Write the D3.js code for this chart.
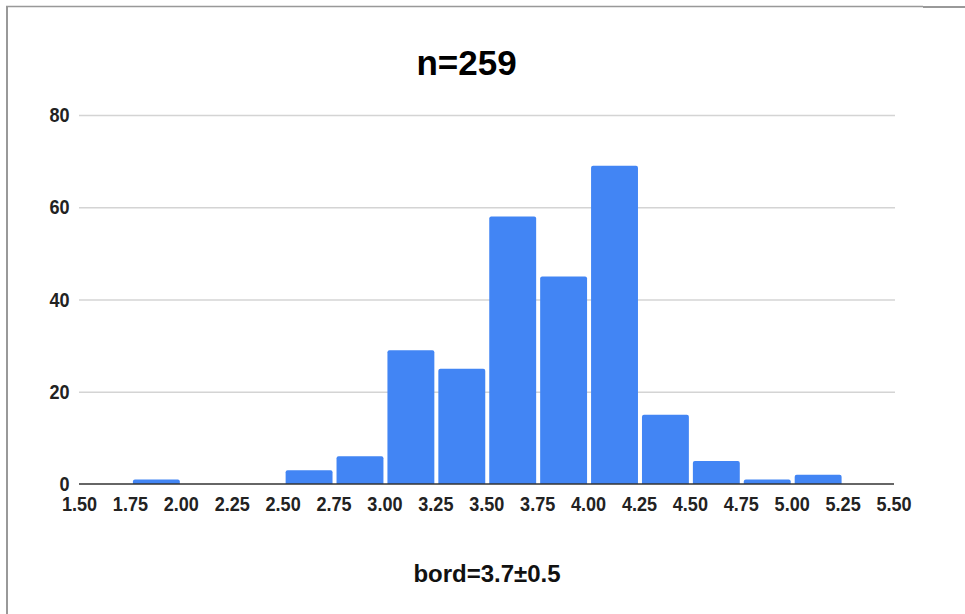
<!DOCTYPE html>
<html>
<head>
<meta charset="utf-8">
<script src="https://cdn.jsdelivr.net/npm/d3@7"></script>
<style>
  html, body { margin: 0; padding: 0; background: #fff; }
  svg { display: block; }
</style>
</head>
<body>
<svg id="chart" width="965" height="614"></svg>
<script>
// Data
const binStarts = [1.50, 1.75, 2.00, 2.25, 2.50, 2.75, 3.00, 3.25, 3.50, 3.75, 4.00, 4.25, 4.50, 4.75, 5.00, 5.25];
const counts    = [0,    1,    0,    0,    3,    6,    29,   25,   58,   45,   69,   15,   5,    1,    2,    0];
const binWidth = 0.25;
const xTicks = [1.50, 1.75, 2.00, 2.25, 2.50, 2.75, 3.00, 3.25, 3.50, 3.75, 4.00, 4.25, 4.50, 4.75, 5.00, 5.25, 5.50];
const yTicks = [0, 20, 40, 60, 80];
const title = "n=259";
const xTitle = "bord=3.7±0.5";

const svg = d3.select("#chart");
const W = 965, H = 614;

// Frame lines (screenshot border)
svg.append("line").attr("x1", 7).attr("x2", 7).attr("y1", 6).attr("y2", H)
  .attr("stroke", "#999").attr("stroke-width", 2);
svg.append("line").attr("x1", 6).attr("x2", 923).attr("y1", 6.5).attr("y2", 6.5)
  .attr("stroke", "#999").attr("stroke-width", 1.5);
svg.append("line").attr("x1", 923).attr("x2", W).attr("y1", 7).attr("y2", 7)
  .attr("stroke", "#999").attr("stroke-width", 2);

const x = d3.scaleLinear().domain([1.5, 5.5]).range([79, 893.5]);
const y = d3.scaleLinear().domain([0, 80]).range([484, 115]);

const font = "'Liberation Sans', Arial, sans-serif";
const sx = 0.86;

// Gridlines + y labels
const yAxis = d3.axisLeft(y).tickValues(yTicks).tickSize(-(895 - 79)).tickFormat(d3.format("d")).tickPadding(9);
const gy = svg.append("g").attr("transform", "translate(79,0)").call(yAxis);
gy.select(".domain").remove();
gy.selectAll(".tick line").attr("stroke", "#d4d4d4").attr("stroke-width", 1.5);
gy.selectAll(".tick text")
  .attr("x", -9.5 / sx)
  .attr("transform", `scale(${sx},1)`)
  .attr("font-family", font).attr("font-weight", "bold")
  .attr("font-size", 21).attr("fill", "#222");
gy.selectAll(".tick").filter(d => d === 0).select("line").remove();

// Bars
const data = binStarts.map((s, i) => ({ x0: s, x1: s + binWidth, v: counts[i] })).filter(d => d.v > 0);
const r = 2;
svg.append("g").selectAll("path").data(data).join("path")
  .attr("fill", "#4285f4")
  .attr("d", d => {
    const l = x(d.x0) + 3, rr = x(d.x1) - 1, t = y(d.v), b = y(0);
    const rad = Math.min(r, (b - t) / 2);
    return `M${l},${b}V${t + rad}Q${l},${t} ${l + rad},${t}H${rr - rad}Q${rr},${t} ${rr},${t + rad}V${b}Z`;
  });

// X axis
const xAxis = d3.axisBottom(x).tickValues(xTicks).tickSize(0).tickPadding(12).tickFormat(d3.format(".2f"));
const gx = svg.append("g").attr("transform", "translate(0,484)").call(xAxis);
gx.select(".domain").attr("stroke", "#333").attr("stroke-width", 1.5).attr("d", "M79,0H894");
gx.selectAll(".tick text")
  .attr("transform", `scale(${sx},1)`)
  .attr("font-family", font).attr("font-weight", "bold")
  .attr("font-size", 21).attr("fill", "#222");

// Title
svg.append("text").attr("x", 466.5).attr("y", 75).attr("text-anchor", "middle")
  .attr("font-family", font).attr("font-weight", "bold").attr("font-size", 35).attr("fill", "#000")
  .text(title);

// X title
svg.append("text").attr("x", 487).attr("y", 582).attr("text-anchor", "middle")
  .attr("font-family", font).attr("font-weight", "bold").attr("font-size", 24).attr("fill", "#111")
  .text(xTitle);
</script>
</body>
</html>
